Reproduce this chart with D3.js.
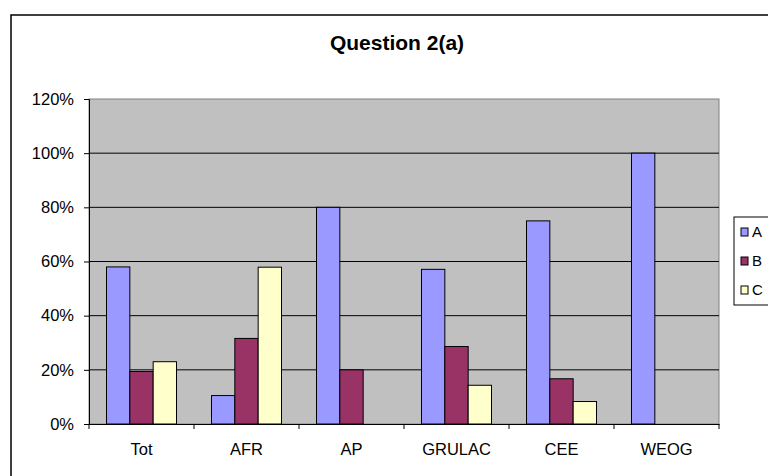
<!DOCTYPE html>
<html>
<head>
<meta charset="utf-8">
<script src="https://cdn.jsdelivr.net/npm/d3@7"></script>
<style>
  body { margin: 0; background: #fff; }
  svg { display: block; font-family: "Liberation Sans", Arial, sans-serif; }
</style>
</head>
<body>
<svg id="chart" width="768" height="476"></svg>
<script>
const categories = ["Tot", "AFR", "AP", "GRULAC", "CEE", "WEOG"];
const seriesNames = ["A", "B", "C"];
const seriesA = [0.58, 0.105, 0.80, 0.571, 0.75, 1.00];
const seriesB = [0.194, 0.316, 0.20, 0.286, 0.167, 0];
const seriesC = [0.23, 0.579, 0, 0.143, 0.083, 0];
const yTicks = [0, 0.2, 0.4, 0.6, 0.8, 1.0, 1.2];
const colors = ["#9999FF", "#993366", "#FFFFCC"];

const series = [seriesA, seriesB, seriesC];
const svg = d3.select("#chart");

// outer chart frame (runs off the right edge like the original)
svg.append("rect")
  .attr("x", 11).attr("y", 15)
  .attr("width", 800).attr("height", 480)
  .attr("fill", "#fff").attr("stroke", "#000").attr("stroke-width", 1.5);

svg.append("text")
  .attr("x", 397).attr("y", 50)
  .attr("text-anchor", "middle")
  .style("font-size", "21px").style("font-weight", "bold")
  .text("Question 2(a)");

const margin = { left: 89, top: 99, right: 719, bottom: 424 };

const x = d3.scaleBand().domain(categories).range([margin.left, margin.right]).paddingInner(0).paddingOuter(0);
const y = d3.scaleLinear().domain([0, 1.2]).range([margin.bottom, margin.top]);
const barW = x.bandwidth() / 4.5;

// plot background
svg.append("rect")
  .attr("x", margin.left).attr("y", margin.top)
  .attr("width", margin.right - margin.left).attr("height", margin.bottom - margin.top)
  .attr("fill", "#C0C0C0").attr("stroke", "#808080").attr("stroke-width", 1);

// gridlines
svg.append("g")
  .selectAll("line")
  .data(yTicks.slice(1, -1))
  .join("line")
  .attr("x1", margin.left).attr("x2", margin.right)
  .attr("y1", d => y(d)).attr("y2", d => y(d))
  .attr("stroke", "#000").attr("stroke-width", 1);

// bars
series.forEach((vals, s) => {
  svg.append("g")
    .selectAll("rect")
    .data(vals.map((v, i) => ({ v, c: categories[i] })).filter(d => d.v > 0))
    .join("rect")
    .attr("x", d => x(d.c) + barW * 0.75 + s * barW)
    .attr("y", d => y(d.v))
    .attr("width", barW)
    .attr("height", d => y(0) - y(d.v))
    .attr("fill", colors[s])
    .attr("stroke", "#000").attr("stroke-width", 1);
});

// y axis
const yAxis = svg.append("g")
  .attr("transform", `translate(${margin.left},0)`)
  .call(d3.axisLeft(y).tickValues(yTicks).tickFormat(d3.format(".0%")).tickSize(5).tickPadding(10));
yAxis.select(".domain").attr("stroke", "#000");
yAxis.selectAll("text").style("font-size", "16.5px").attr("fill", "#000");

// x axis
const xAxis = svg.append("g")
  .attr("transform", `translate(0,${margin.bottom})`)
  .call(d3.axisBottom(x).tickSize(0).tickPadding(19));
xAxis.select(".domain").attr("stroke", "#000");
xAxis.selectAll("text").style("font-size", "16.5px").attr("fill", "#000");
xAxis.selectAll(".sep")
  .data(d3.range(categories.length + 1))
  .join("line")
  .attr("class", "sep")
  .attr("x1", i => margin.left + i * x.step()).attr("x2", i => margin.left + i * x.step())
  .attr("y1", 0).attr("y2", 5)
  .attr("stroke", "#000");

// legend (clipped at the right edge)
const legend = svg.append("g").attr("transform", "translate(734,217)");
legend.append("rect")
  .attr("width", 60).attr("height", 88)
  .attr("fill", "#fff").attr("stroke", "#000");
seriesNames.forEach((n, i) => {
  legend.append("rect")
    .attr("x", 7).attr("y", 11 + i * 29)
    .attr("width", 7).attr("height", 8)
    .attr("fill", colors[i]).attr("stroke", "#000");
  legend.append("text")
    .attr("x", 18).attr("y", 20 + i * 29)
    .style("font-size", "15px")
    .text(n);
});
</script>
</body>
</html>
